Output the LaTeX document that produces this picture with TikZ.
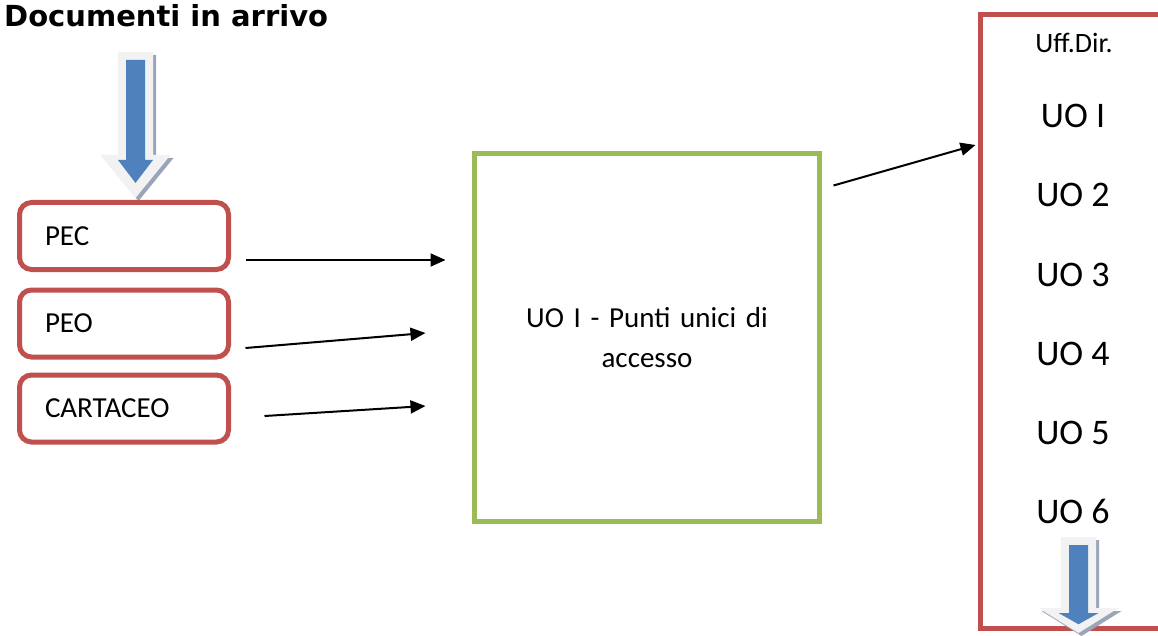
\documentclass[tikz,border=0pt]{standalone}
\usepackage{fontspec}
\setmainfont{Carlito}
\newfontfamily\titlefont{DejaVu Sans}
\usetikzlibrary{arrows.meta,calc}

\definecolor{boxred}{RGB}{192,80,77}
\definecolor{boxgreen}{RGB}{155,187,89}
\definecolor{arrowblue}{RGB}{79,129,189}
\definecolor{arrowrim}{RGB}{242,242,242}
\definecolor{arrowshade}{RGB}{155,165,185}

% block arrow: centre x, top, start of head, tip, half width of head
\newcommand{\docarrow}[5]{%
  \fill[arrowshade, shift={(3,3)}] (#1-17.5,#2) -- (#1+17.5,#2) -- (#1+17.5,#3)
    -- (#1+#5,#3) -- (#1,#4) -- (#1-#5,#3) -- (#1-17.5,#3) -- cycle;
  \fill[arrowrim] (#1-17.5,#2) -- (#1+17.5,#2) -- (#1+17.5,#3)
    -- (#1+#5,#3) -- (#1,#4) -- (#1-#5,#3) -- (#1-17.5,#3) -- cycle;
  \fill[arrowblue] (#1-9.5,#2+8) -- (#1+9.5,#2+8) -- (#1+9.5,#3+5)
    -- (#1+0.5*#5,#3+5) -- (#1,#4-0.35*#4+0.35*#3) -- (#1-0.5*#5,#3+5)
    -- (#1-9.5,#3+5) -- cycle;
}

\tikzset{
  source/.style={draw=boxred, line width=5pt, rounded corners=12pt,
    minimum height=67pt, text width=158pt, inner xsep=25.5pt, align=left,
    font=\fontsize{29}{35}\selectfont},
  flow/.style={line width=2pt, -{Triangle[length=15pt,width=13pt]}},
  uolabel/.style={anchor=base, inner sep=0pt, font=\fontsize{36}{40}\selectfont}
}

\begin{document}
\begin{tikzpicture}[x=1pt, y=-1pt]

        \useasboundingbox (0,0) rectangle (1158,636);
        \clip (0,0) rectangle (1158,636);

        \node[anchor=base west, inner sep=0pt, font=\titlefont\bfseries\fontsize{29}{32}\selectfont]
          (title) at (4,27) {Documenti in arrivo};

        \docarrow{135.5}{52}{155}{198}{35}

        \node[source] (pec)  at (124,236)   {PEC};
        \node[source] (peo)  at (124,323.5) {PEO};
        \node[source] (cart) at (124,408.5) {CARTACEO};

        \node[draw=boxgreen, line width=5pt, minimum width=345pt, minimum height=368pt,
          text width=300pt, align=center, font=\fontsize{29}{40}\selectfont]
          (acc) at (647,337.5) {UO I - Punti unici di\\accesso};

        \node[draw=boxred, line width=5pt, minimum width=300pt, minimum height=614pt]
          (uff) at (1130.5,321.5) {};

        \node[uolabel, font=\fontsize{28}{32}\selectfont] (dir) at (1074,53) {Uff.Dir.};
        \foreach \n/\t/\y in {1/UO I/128, 2/UO 2/207, 3/UO 3/286, 4/UO 4/365, 5/UO 5/444, 6/UO 6/523}
          \node[uolabel] (uo\n) at (1073,\y) {\t};

        \docarrow{1078.5}{537}{608}{633}{40}

        \begin{scope}[every path/.style={flow}]
          \draw ($(pec.east)+(14.5,24)$)  -- ($(acc.west)+(-26.5,-77.5)$);
          \draw ($(peo.east)+(14.5,24.5)$) -- ($(acc.west)+(-46.5,-4.5)$);
          \draw ($(cart.east)+(33.5,7.5)$) -- ($(acc.west)+(-46.5,68.5)$);
          \draw ($(acc.north east)+(11.5,34.5)$) -- ($(uff.west)+(-2.5,-176.5)$);
        \end{scope}

      \end{tikzpicture}
\end{document}
